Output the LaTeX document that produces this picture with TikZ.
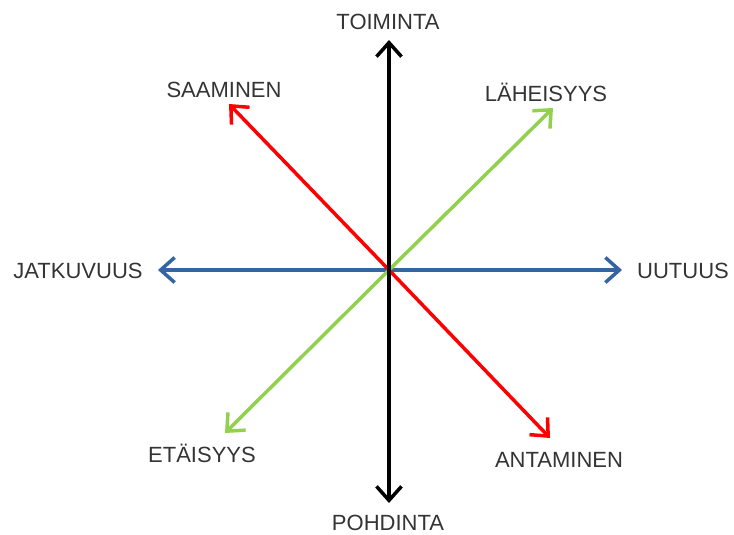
\documentclass[tikz,border=0pt]{standalone}
\usepackage{fontspec}
\setmainfont{Liberation Sans}
\usetikzlibrary{arrows.meta}
\definecolor{axred}{RGB}{255,0,0}
\definecolor{axgreen}{RGB}{146,208,80}
\definecolor{axblue}{RGB}{52,101,160}
\definecolor{txt}{RGB}{52,52,52}
\begin{document}
\begin{tikzpicture}[x=1pt,y=-1pt,
  axis/.style={line width=3.5pt,-{Straight Barb[length=14pt,width=25pt,line width=3.5pt]}},
  lbl/.style={font=\fontsize{22}{25}\selectfont,text=txt,inner sep=0pt}]
\useasboundingbox (0,0) rectangle (734,535);
\coordinate (c) at (389,270);
\coordinate (n) at (389,40);
\coordinate (s) at (389,503);
\coordinate (w) at (158,270);
\coordinate (e) at (622,270);
\coordinate (nw) at (229,104);
\coordinate (se) at (550,438);
\coordinate (ne) at (553,108);
\coordinate (sw) at (225,433);
\draw[axis,axblue] (c) -- (w);
\draw[axis,axblue] (c) -- (e);
\draw[axis,axred] (c) -- (nw);
\draw[axis,axred] (c) -- (se);
\draw[axis,axgreen] (c) -- (ne);
\draw[axis,axgreen] (c) -- (sw);
\draw[axis,black] (c) -- (n);
\draw[axis,black] (c) -- (s);
\node[lbl] (ln) at (388,22) {TOIMINTA};
\node[lbl] (ls) at (388,523) {POHDINTA};
\node[lbl] (lw) at (78,271) {JATKUVUUS};
\node[lbl] (le) at (683,271) {UUTUUS};
\node[lbl] (lnw) at (224,90) {SAAMINEN};
\node[lbl] (lne) at (546,92) {LÄHEISYYS};
\node[lbl] (lsw) at (202,453) {ETÄISYYS};
\node[lbl] (lse) at (559,460) {ANTAMINEN};
\end{tikzpicture}
\end{document}
